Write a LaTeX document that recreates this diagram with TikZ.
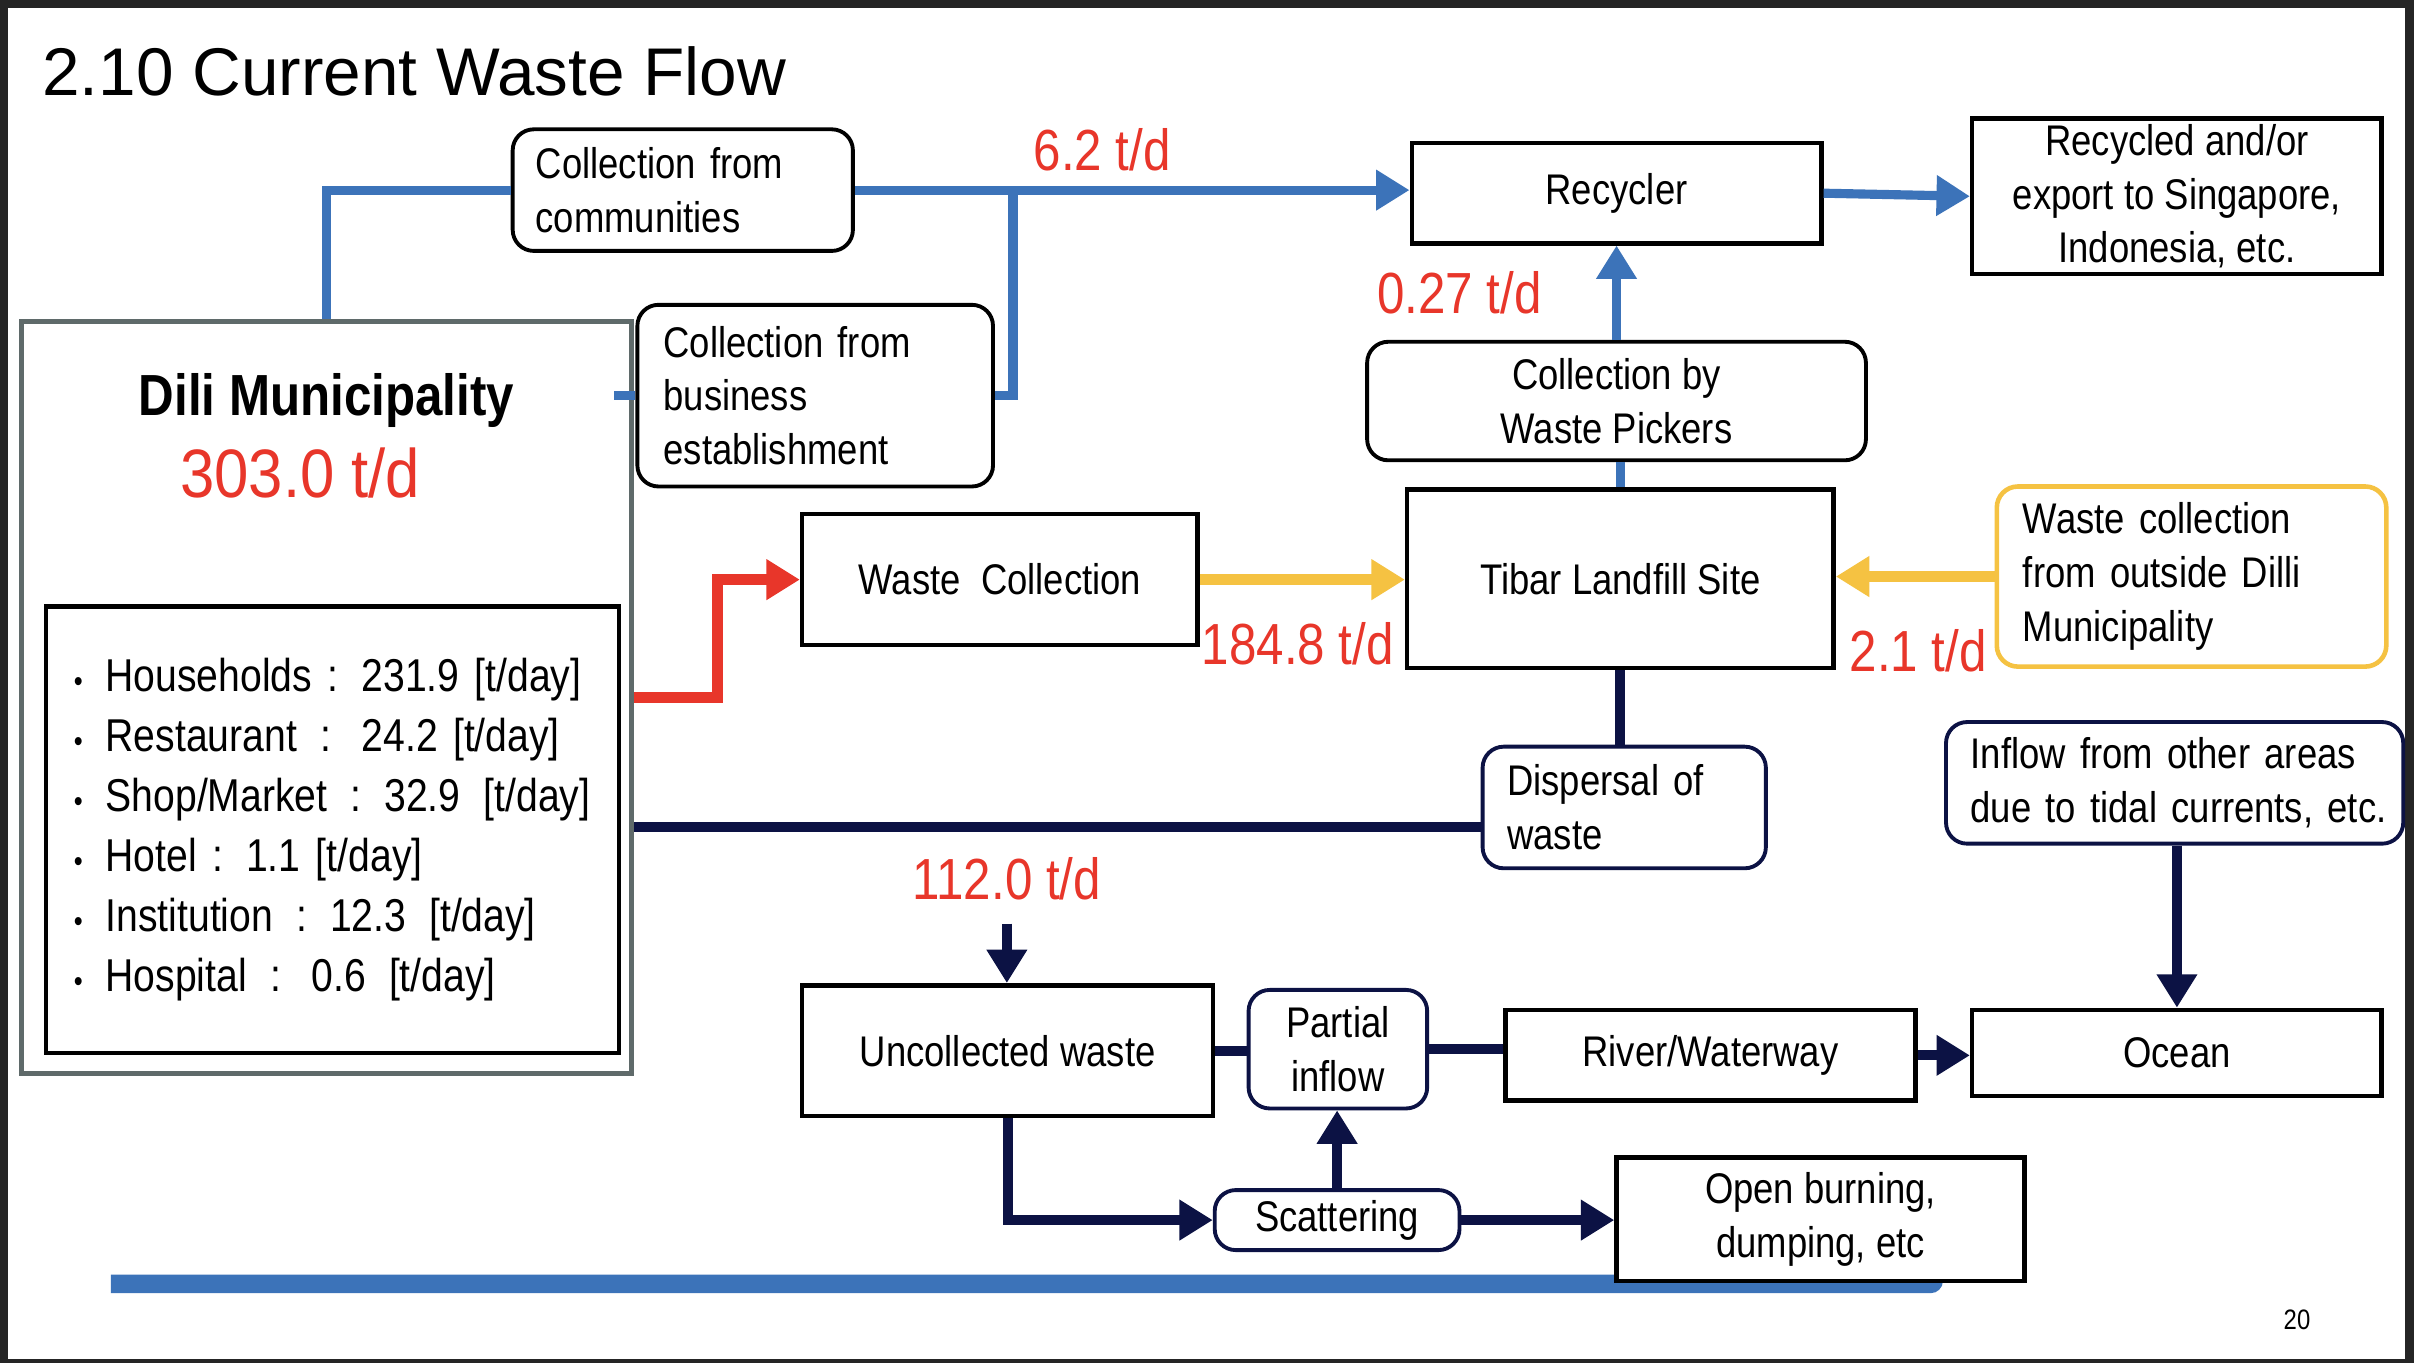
\documentclass[tikz,border=0pt]{standalone}
\usepackage{fontspec}
\setmainfont[FakeStretch=0.85]{Liberation Sans}
\newfontfamily\titlefont{Liberation Sans}
\newfontfamily\bignumfont[FakeStretch=0.9]{Liberation Sans}
\usetikzlibrary{arrows.meta}
\newdimen\pxu \pxu=0.15395mm
\definecolor{cblue}{HTML}{3C73B9}
\definecolor{cred}{HTML}{E8362A}
\definecolor{cyellow}{HTML}{F5C242}
\definecolor{cnavy}{HTML}{0C1244}
\definecolor{cdgray}{HTML}{5F6A6A}
\definecolor{cframe}{HTML}{252525}
\newcommand\boxfont{\fontsize{12.2}{15.3}\selectfont}
\newcommand\redfont{\fontsize{16.5}{18}\selectfont\color{cred}}
\newcommand\bul{{\fontsize{8.5}{8}\selectfont •}\hspace{6.5pt}}
\tikzset{
  box/.style={draw=black, line width=1.3pt, inner sep=0pt, align=center, font=\boxfont, fill=white},
  rbox/.style={box, rounded corners=6pt, line width=1.1pt},
  nbox/.style={rbox, draw=cnavy},
  ybox/.style={rbox, draw=cyellow, line width=1.3pt},
  tip/.style={-{Triangle[width=11pt,length=9.5pt]}},
  blueline/.style={draw=cblue, line width=2.6pt},
  navyline/.style={draw=cnavy, line width=2.8pt},
  redline/.style={draw=cred, line width=3.2pt},
  yellowline/.style={draw=cyellow, line width=3.2pt},
  redlabel/.style={font=\redfont, inner sep=0pt},
}
\begin{document}
\begin{tikzpicture}[x=0.15395mm, y=-0.15395mm]
\useasboundingbox (0,0) rectangle (1568,885);
\fill[cframe] (0,0) rectangle (1568,885);
\fill[white] (5,5) rectangle (1562,883);

% title
\node[anchor=base west, inner sep=0pt, font=\titlefont\fontsize{19.2}{22}\selectfont] (title) at (27,62) {2.10 Current Waste Flow};

% bottom bar
\fill[cblue] (72,828) -- (1262,828) -- (1262,832) arc[start angle=0, end angle=-90, radius=8\pxu] -- (72,840) -- cycle;

% Dili municipality
\node[draw=cdgray, line width=1.4pt, minimum width=396\pxu, minimum height=488\pxu, inner sep=0pt] (dili) at (212,453) {};
\node[inner sep=0pt, font=\bfseries\fontsize{16.5}{18}\selectfont] (dilit) at (212,260) {Dili Municipality};
\node[inner sep=0pt, font=\bignumfont\fontsize{19.5}{22}\selectfont\color{cred}] (dilin) at (195,307) {303.0 t/d};
\node[box, minimum width=372\pxu, minimum height=290\pxu, text width=336\pxu, align=left, font=\fontsize{13.1}{17.1}\selectfont] (list) at (216,539)
 {\mbox{\bul Households : 231.9 [t/day]}\\
  \mbox{\bul Restaurant\, : \,24.2 [t/day]}\\
  \mbox{\bul Shop/Market\, : 32.9 \,[t/day]}\\
  \mbox{\bul Hotel : 1.1 [t/day]}\\
  \mbox{\bul Institution\, : 12.3 \,[t/day]}\\
  \mbox{\bul Hospital\, : \,0.6 \,[t/day]}};

% boxes
\node[rbox, minimum width=221\pxu, minimum height=79\pxu, text width=191\pxu, align=left] (comm) at (443.5,123.5) {\mbox{Collection from}\\\mbox{communities}};
\node[rbox, minimum width=231\pxu, minimum height=118\pxu, text width=197\pxu, align=left] (bus) at (529.5,257) {\mbox{Collection from}\\\mbox{business}\\\mbox{establishment}};
\node[box, minimum width=257\pxu, minimum height=85\pxu] (wc) at (649.5,376.5) {Waste\ \ Collection};
\node[box, minimum width=266\pxu, minimum height=65\pxu] (rec) at (1050,125.5) {Recycler};
\node[box, minimum width=266\pxu, minimum height=101\pxu] (recd) at (1414,127.5) {Recycled and/or\\export to Singapore,\\Indonesia, etc.};
\node[rbox, minimum width=324\pxu, minimum height=77\pxu] (pick) at (1050,260.5) {Collection by\\Waste Pickers};
\node[box, minimum width=277\pxu, minimum height=116\pxu] (tibar) at (1052.5,376) {Tibar Landfill Site};
\node[ybox, minimum width=253\pxu, minimum height=117\pxu, text width=219\pxu, align=left] (out) at (1423.5,374.5) {\mbox{Waste collection}\\\mbox{from outside Dilli}\\\mbox{Municipality}};
\node[nbox, minimum width=184\pxu, minimum height=79\pxu, text width=152\pxu, align=left] (disp) at (1055,524.5) {\mbox{Dispersal of}\\\mbox{waste}};
\node[nbox, minimum width=297\pxu, minimum height=79\pxu, text width=265\pxu, align=left] (inflow) at (1412.5,508.5) {\mbox{Inflow from other areas}\\\mbox{due to tidal currents, etc.}};
\node[box, minimum width=267\pxu, minimum height=85\pxu] (unc) at (654.5,682.5) {Uncollected waste};
\node[nbox, minimum width=116\pxu, minimum height=77\pxu] (part) at (869,681.5) {Partial\\inflow};
\node[box, minimum width=266\pxu, minimum height=59\pxu] (river) at (1111,685.5) {River/Waterway};
\node[box, minimum width=266\pxu, minimum height=56\pxu] (ocean) at (1414,684) {Ocean};
\node[nbox, minimum width=159\pxu, minimum height=39\pxu] (scat) at (868.5,792.5) {Scattering};
\node[box, minimum width=265\pxu, minimum height=80\pxu] (ob) at (1182.5,792) {Open burning,\\dumping, etc};

% page number
\node[inner sep=0pt, font=\fontsize{8}{9}\selectfont] (pg) at (1492,857) {20};

% helper coordinates
\coordinate (j1) at (658,0);
\coordinate (rb) at (466,0);
\coordinate (a112) at (654,600);
\coordinate (dy) at (0,537);

% blue connectors
\draw[blueline] (dili.north) |- (comm.west);
\draw[blueline, tip] (comm.east) -- (comm.east -| rec.west);
\draw[blueline] (comm.east -| j1) |- (bus.east);
\draw[blueline] (bus.west) -- ([xshift=-14\pxu]bus.west);
\draw[blueline, tip] (rec.east) -- (recd.west);
\draw[blueline, tip] (pick.north) -- (rec.south);
\draw[blueline] (tibar.north) -- (tibar.north |- pick.south);

% red connector
\draw[redline, tip] (dili.east) -- (dili.east -| rb) |- (wc.west);

% yellow connectors
\draw[yellowline, tip] (wc.east) -- (wc.east -| tibar.west);
\draw[yellowline, tip] (out.west) -- (out.west -| tibar.east);

% navy connectors
\draw[navyline] (tibar.south) -- (tibar.south |- disp.north);
\draw[navyline] (disp.west |- dy) -- (dili.east |- dy);
\draw[navyline, tip] (a112) -- (a112 |- unc.north);
\draw[navyline] (unc.east) -- (unc.east -| part.west);
\draw[navyline] (part.east) -- (part.east -| river.west);
\draw[navyline, tip] (river.east) -- (river.east -| ocean.west);
\draw[navyline, tip] (inflow.south -| ocean.north) -- (ocean.north);
\draw[navyline, tip] (unc.south) |- (scat.west);
\draw[navyline, tip] (scat.north) -- (scat.north |- part.south);
\draw[navyline, tip] (scat.east) -- (scat.east -| ob.west);

% red labels
\node[redlabel] (l62) at (716,97) {6.2 t/d};
\node[redlabel] (l027) at (948,190) {0.27 t/d};
\node[redlabel] (l1848) at (843,418) {184.8 t/d};
\node[redlabel] (l21) at (1246,423) {2.1 t/d};
\node[redlabel] (l112) at (654,571) {112.0 t/d};
\end{tikzpicture}
\end{document}
